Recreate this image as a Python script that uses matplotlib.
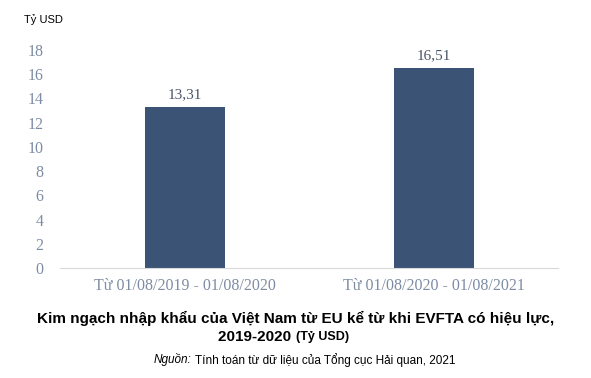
import matplotlib.pyplot as plt

# du lieu
categories = ["Từ 01/08/2019 - 01/08/2020", "Từ 01/08/2020 - 01/08/2021"]
values = [13.31, 16.51]
labels = ["13,31", "16,51"]
yticks = [0, 2, 4, 6, 8, 10, 12, 14, 16, 18]

tick_color = "#7d8ca3"
bar_color = "#3b5475"

fig = plt.figure(figsize=(5.91, 3.78), dpi=100)
ax = fig.add_axes([0.102, 0.291, 0.843, 0.577])

x = range(len(categories))
bars = ax.bar(x, values, width=0.32, color=bar_color)

for b, lab in zip(bars, labels):
    ax.text(b.get_x() + b.get_width() / 2, b.get_height() + 0.45, lab,
            ha="center", va="bottom", family="Liberation Serif",
            fontsize=11, color="#4a5568")

ax.set_xlim(-0.5, 1.5)
ax.set_ylim(0, 18)
ax.set_yticks(yticks)
ax.set_xticks(list(x))
ax.set_xticklabels(categories, family="Liberation Serif", fontsize=11.5, color=tick_color)
ax.set_yticklabels([str(t) for t in yticks], family="Liberation Serif", fontsize=11.5, color=tick_color)
ax.tick_params(length=0, pad=12)
ax.tick_params(axis="x", pad=7)

for s in ["top", "right", "left"]:
    ax.spines[s].set_visible(False)
ax.spines["bottom"].set_color("#d9d9d9")

fig.text(24 / 591, 1 - 20 / 378, "Tỷ USD", fontsize=8, family="Liberation Sans", va="center")

# tieu de
fig.text(0.5, 1 - 318 / 378,
         "Kim ngạch nhập khẩu của Việt Nam từ EU kể từ khi EVFTA có hiệu lực,",
         ha="center", va="center", fontsize=11, fontweight="bold", family="Liberation Sans")
fig.text(0.5, 1 - 337 / 378, r"2019-2020 ", ha="right", va="center",
         fontsize=11, fontweight="bold", family="Liberation Sans")
fig.text(0.5, 1 - 337 / 378, "(Tỷ USD)", ha="left", va="center",
         fontsize=9, fontweight="bold", family="Liberation Sans")

fig.text(191 / 591, 1 - 360 / 378, "Nguồn:", ha="right", va="center", fontsize=8.5,
         style="italic", family="Liberation Sans")
fig.text(195 / 591, 1 - 360 / 378, "Tính toán từ dữ liệu của Tổng cục Hải quan, 2021",
         ha="left", va="center", fontsize=8.5, family="Liberation Sans")

fig.savefig("out.png", dpi=100)
